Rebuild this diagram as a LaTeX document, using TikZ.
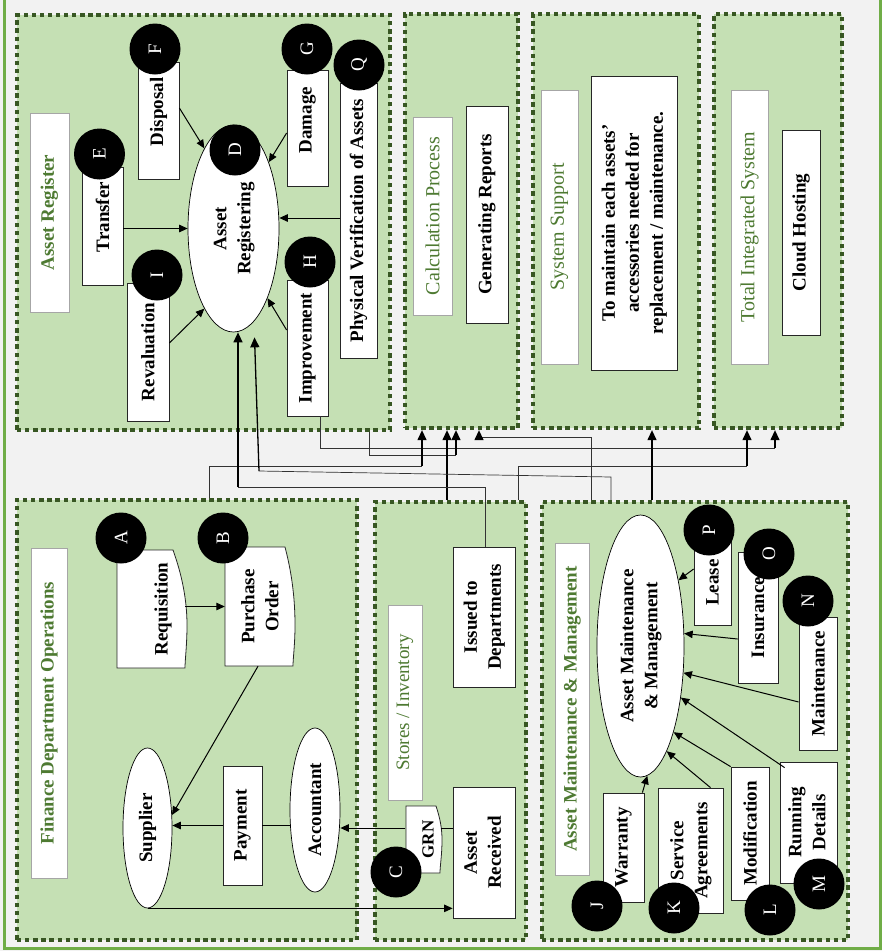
\documentclass[tikz,border=0pt]{standalone}
\usepackage{fontspec}
\setmainfont{Liberation Serif}
\usepackage{graphicx}
\usetikzlibrary{shapes.geometric,arrows.meta,calc}

\definecolor{pfill}{HTML}{C5E0B4}
\definecolor{pdark}{HTML}{385723}
\definecolor{tgreen}{HTML}{4E7A32}
\definecolor{bgc}{HTML}{F2F2F2}
\definecolor{outergreen}{HTML}{70AD47}

% vertical (bottom-to-top) text helpers
\newcommand\vtext[1]{\rotatebox{90}{#1}}
\newcommand\vlines[1]{\rotatebox{90}{\begin{tabular}{@{}c@{}}#1\end{tabular}}}
\newcommand\lift[2]{\raisebox{0pt}[\dimexpr\height+#1\relax][\depth]{#2}}
\newcommand\fb{\fontsize{19}{24}\selectfont\bfseries}
\newcommand\fr{\fontsize{19}{24}\selectfont}
\newcommand\frt{\fontsize{20}{24}\selectfont}

\tikzset{
  panel/.style={draw=pdark, fill=pfill, line width=4.3pt, dash pattern=on 4.3pt off 3.8pt, inner sep=0pt},
  wbox/.style={draw=black!85, fill=white, line width=0.8pt, inner sep=0pt, font=\fb},
  tboxb/.style={draw=black!35, fill=white, line width=0.7pt, inner sep=0pt, font=\fb, text=tgreen},
  tboxr/.style={draw=black!35, fill=white, line width=0.7pt, inner sep=0pt, font=\frt, text=tgreen},
  oval/.style={ellipse, draw=black, fill=white, line width=0.7pt, inner sep=0pt, font=\fb},
  docline/.style={draw=black!85, fill=white, line width=0.8pt},
  doctext/.style={inner sep=0pt, font=\fb},
  tag/.style={circle, fill=black, minimum size=51pt, inner sep=0pt, text=white, font=\fr},
  arr/.style={-{Triangle[length=8.5pt,width=7.5pt]}, line width=1pt, black},
  link/.style={line width=0.7pt, black!80},
  linkarr/.style={-{Triangle[length=10pt,width=9pt]}, line width=1.3pt, black},
}

\begin{document}
\begin{tikzpicture}[x=1pt,y=-1pt]
\useasboundingbox (0,0) rectangle (882,951);
\fill[bgc] (0,0) rectangle (882,951);
\draw[outergreen, line width=3pt] (4,-3) -- (4,948) -- (880.5,948) -- (880.5,-3);

% ---------- panels ----------
\node[panel, minimum width=373pt, minimum height=415pt] (pAR)   at (203.5,222.5) {};
\node[panel, minimum width=113pt, minimum height=414pt] (pCalc) at (461.5,221) {};
\node[panel, minimum width=166pt, minimum height=414pt] (pSS)   at (616,221) {};
\node[panel, minimum width=128pt, minimum height=414pt] (pTIS)  at (778,221) {};
\node[panel, minimum width=340pt, minimum height=440pt] (pFin)  at (187,720) {};
\node[panel, minimum width=151pt, minimum height=438pt] (pSt)   at (450.5,721) {};
\node[panel, minimum width=306pt, minimum height=438pt] (pAMM)  at (695,721) {};

% ---------- Asset Register ----------
\node[tboxb, minimum width=39pt, minimum height=199pt] (tAR) at (49.5,212.5) {\vtext{Asset Register}};
\node[wbox, minimum width=41pt, minimum height=118pt] (transfer) at (102.5,226) {\vtext{\hspace*{18pt}Transfer}};
\node[wbox, minimum width=41pt, minimum height=117pt] (disposal) at (158.5,120.5) {\vtext{\hspace*{17pt}Disposal}};
\node[wbox, minimum width=42pt, minimum height=138pt] (reval) at (148,352) {\vtext{Revaluation}};
\node[wbox, minimum width=41pt, minimum height=116pt] (damage) at (307.5,128) {\vtext{\hspace*{16pt}Damage}};
\node[wbox, minimum width=37pt, minimum height=275pt] (phys) at (358.5,220.5) {\vtext{Physical Verification of Assets}};
\node[wbox, minimum width=41pt, minimum height=136pt] (impr) at (307.5,348) {\vtext{Improvement}};
\node[oval, minimum width=91pt, minimum height=207pt] (areg) at (233.5,228.5) {\vlines{Asset\\Registering}};

% ---------- Calculation / Support / Integration ----------
\node[tboxr, minimum width=39pt, minimum height=198pt] (tCalc) at (432.5,216) {\vtext{Calculation Process}};
\node[wbox, minimum width=42pt, minimum height=217pt] (genrep) at (487,214.5) {\vtext{Generating Reports}};
\node[tboxr, minimum width=37pt, minimum height=274pt] (tSS) at (559.5,227) {\vtext{System Support}};
\node[wbox, minimum width=86pt, minimum height=294pt] (sstext) at (634,223) {\vlines{To maintain each assets’\\accessories needed for\\replacement / maintenance.}};
\node[tboxr, minimum width=37pt, minimum height=274pt] (tTIS) at (749.5,227) {\vtext{Total Integrated System}};
\node[wbox, minimum width=38pt, minimum height=205pt] (cloud) at (801,232.5) {\vtext{Cloud Hosting}};

% ---------- Finance Department Operations ----------
\node[tboxb, minimum width=36pt, minimum height=330pt] (tFin) at (49,713) {\vtext{Finance Department Operations}};
\path[docline] (117,550) -- (173,550) .. controls (182,575) and (187,600) .. (187,625)
  .. controls (187,645) and (185,660) .. (185,668) -- (117,668) -- cycle;
\node[doctext, minimum width=68pt, minimum height=118pt] (req) at (151,609) {\vtext{\lift{24pt}{Requisition}}};
\path[docline] (225,547) -- (285,547) .. controls (291,570) and (295,595) .. (295,625)
  .. controls (295,645) and (293,658) .. (293,666) -- (225,666) -- cycle;
\node[doctext, minimum width=70pt, minimum height=119pt] (po) at (260,606.5) {\vlines{\lift{7pt}{Purchase}\\Order}};
\node[oval, minimum width=49pt, minimum height=160pt] (supplier) at (147.5,828) {\vtext{Supplier}};
\node[wbox, minimum width=39pt, minimum height=119pt] (pay) at (242.5,825.5) {\vtext{Payment}};
\node[oval, minimum width=50pt, minimum height=164pt] (acct) at (315,810) {\vtext{Accountant}};

% ---------- Stores / Inventory ----------
\node[tboxr, font=\fr, minimum width=34pt, minimum height=195pt] (tSt) at (405,702.5) {\vtext{Stores / Inventory}};
\node[wbox, minimum width=62pt, minimum height=140pt] (issued) at (484,617) {\vlines{Issued to\\Departments}};
\node[wbox, minimum width=62pt, minimum height=131pt] (received) at (484,852.5) {\vlines{Asset\\Received}};
\path[docline] (406,806) -- (436,806) .. controls (440,818) and (442,828) .. (442,840)
  .. controls (442,855) and (440,866) .. (440,873) -- (406,873) -- cycle;
\node[doctext, font=\fontsize{17}{20}\selectfont\bfseries, minimum width=35pt, minimum height=67pt] (grn) at (423,839.5) {\vtext{\lift{10pt}{GRN}}};

% ---------- Asset Maintenance & Management ----------
\node[tboxb, minimum width=34pt, minimum height=332pt] (tAMM) at (572,709) {\vtext{Asset Maintenance \& Management}};
\node[oval, minimum width=87pt, minimum height=262pt] (amm) at (640.5,646) {\vlines{Asset Maintenance\\\& Management}};
\node[wbox, minimum width=37pt, minimum height=85pt] (lease) at (712.5,582.5) {\vtext{Lease}};
\node[wbox, minimum width=40pt, minimum height=131pt] (ins) at (758,617.5) {\vtext{Insurance}};
\node[wbox, minimum width=38pt, minimum height=133pt] (maint) at (818,683.5) {\vtext{Maintenance}};
\node[wbox, minimum width=57pt, minimum height=121pt] (running) at (808.5,822.5) {\vlines{Running\\Details}};
\node[wbox, minimum width=38pt, minimum height=133pt] (modif) at (750,833.5) {\vtext{Modification}};
\node[wbox, minimum width=65pt, minimum height=125pt] (service) at (690.5,850.5) {\vlines{Service\\Agreements}};
\node[wbox, minimum width=41pt, minimum height=109pt] (warranty) at (623.5,847.5) {\vtext{Warranty}};

% ---------- lettered markers ----------
\node[tag] (tA) at (121,538) {\vtext{A}};
\node[tag] (tB) at (223,538) {\vtext{B}};
\node[tag] (tC) at (396,872) {\vtext{C}};
\node[tag] (tD) at (235,150) {\vtext{D}};
\node[tag] (tE) at (99.5,154) {\vtext{E}};
\node[tag] (tF) at (155,49) {\vtext{F}};
\node[tag] (tG) at (307,49) {\vtext{G}};
\node[tag] (tH) at (310,262) {\vtext{H}};
\node[tag] (tI) at (157,275) {\vtext{I}};
\node[tag] (tJ) at (597,906) {\vtext{J}};
\node[tag] (tK) at (674,908) {\vtext{K}};
\node[tag] (tL) at (770,910) {\vtext{L}};
\node[tag] (tM) at (819,884) {\vtext{M}};
\node[tag] (tN) at (808,601) {\vtext{N}};
\node[tag] (tO) at (769,554) {\vtext{O}};
\node[tag] (tP) at (709,530) {\vtext{P}};
\node[tag] (tQ) at (359,65) {\vtext{Q}};

% ---------- arrows into Asset Registering ----------
\draw[arr] (transfer.east |- areg.west) -- (areg.west);
\draw[arr] (disposal.east |- 0,108) -- (areg.110);
\draw[arr] (damage.west |- 0,133) -- (areg.62);
\draw[arr] (phys.west |- 0,218) -- (areg.east |- 0,218);
\draw[arr] (impr.west |- 0,330) -- (areg.-64);
\draw[arr] (reval.east |- 0,343) -- (areg.250);

% ---------- finance flow ----------
\draw[arr] (req.east |- po.west) -- (po.west);
\draw[arr] ([xshift=-2pt]po.south) -- (supplier.28);
\draw[line width=1pt, black] (acct.west |- pay.east) -- (pay.east);
\draw[arr] (pay.west) -- (supplier.east |- pay.west);
\draw[line width=1pt, black] (received.west |- 0,828) -- (grn.east |- 0,828);
\draw[arr] (grn.west |- 0,828) -- (acct.east |- 0,828);
\draw[arr] (supplier.south) -- (received.west |- supplier.south);

% ---------- arrows into Asset Maintenance & Management ----------
\draw[arr] (lease.west |- 0,569) -- (amm.60);
\draw[arr] (ins.west |- 0,639) -- (amm.16);
\draw[arr] (maint.west |- 0,702) -- (amm.-32);
\draw[arr] ([xshift=5pt,yshift=-6pt]running.north west) -- (amm.-52);
\draw[arr] (modif.north west) -- (amm.-69);
\draw[arr] ([xshift=20pt]service.north) -- (amm.-76);
\draw[arr] ([xshift=-2pt]warranty.north east) -- (amm.-87);

% ---------- links between areas ----------
\draw[link] ([xshift=12.5pt]impr.south) |- (775,448);
\draw[linkarr] (775,448) -- (775,0 |- pTIS.south);
\draw[link] (369,0 |- pAR.south) |- (456,455);
\draw[linkarr] (456,455) -- (456,0 |- pCalc.south);
\draw[link] (209,0 |- pFin.north) |- (422,466);
\draw[linkarr] (422,466) -- (422,0 |- pCalc.south);
\draw[linkarr] (447,0 |- pSt.north) -- (447,0 |- pCalc.south);
\draw[link] (611,0 |- pAMM.north) -- (611,477) -- (259,471);
\draw[linkarr] (259,471) -- ([xshift=21pt,yshift=-5pt]areg.south);
\draw[link] (485,0 |- issued.north) |- (238,487);
\draw[linkarr] (238,487) -- ([xshift=4.5pt]areg.south);
\draw[link] (591,0 |- pAMM.north) |- (479,437);
\draw[linkarr] (479,437) -- (479,0 |- pCalc.south);
\draw[link] (518,0 |- pSt.north) |- (747,466);
\draw[linkarr] (747,466) -- (747,0 |- pTIS.south);
\draw[linkarr] (652,0 |- pAMM.north) -- (652,0 |- pSS.south);
\end{tikzpicture}
\end{document}
